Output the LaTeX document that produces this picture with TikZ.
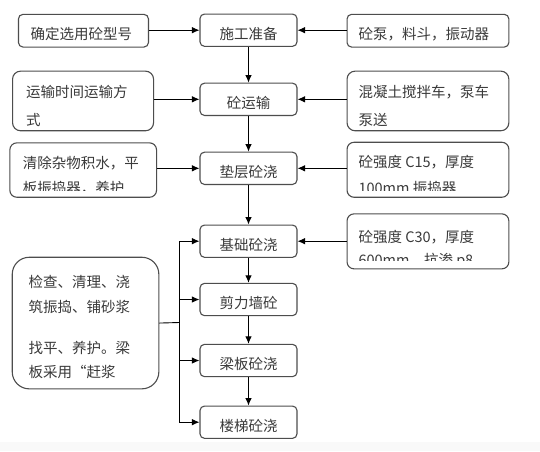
\documentclass[tikz,border=0pt]{standalone}
\usepackage{fontspec}
\newfontfamily\cjk{Noto Sans CJK SC}
\usetikzlibrary{arrows.meta}
\definecolor{txt}{HTML}{3a3a3a}
\definecolor{edge}{HTML}{4d4d4d}
\begin{document}
\begin{tikzpicture}[x=1pt,y=-1pt,
  sbox/.style={draw=edge,line width=1.1pt,rounded corners=4.5pt,inner sep=0pt,anchor=north west},
  cbox/.style={draw=edge,line width=1.1pt,rounded corners=4.5pt,inner sep=0pt,anchor=center,
    minimum width=97pt,minimum height=32.3pt,text height=18pt,text depth=0pt,
    font=\cjk\fontsize{14.5pt}{20pt}\selectfont,text=txt},
  tx/.style={font=\cjk\fontsize{14.5pt}{20pt}\selectfont,text=txt,inner sep=0pt,anchor=west},
  arr/.style={-{Latex[length=7.5pt,width=6.5pt]},line width=0.9pt,black},
  ln/.style={line width=0.9pt,black}]
\useasboundingbox (0,0) rectangle (540,451);
\fill[white] (0,0) rectangle (540,451);
\fill[gray!5] (0,441.7) rectangle (540,451);

% centre column
\node[cbox] (sg) at (248.5,30.2) {施工准备};
\node[cbox] (ys) at (248.5,99.3) {砼运输};
\node[cbox] (dc) at (248.5,168.3) {垫层砼浇};
\node[cbox] (jc) at (248.5,241.2) {基础砼浇};
\node[cbox] (jl) at (248.5,299.5) {剪力墙砼};
\node[cbox] (lb) at (248.5,360.5) {梁板砼浇};
\node[cbox] (lt) at (248.5,422.2) {楼梯砼浇};

% left boxes
\node[sbox,minimum width=130pt,minimum height=32.7pt] (l1) at (17.9,13.8) {};
\node[tx] (l1t) at (30.3,34) {确定选用砼型号};
\node[sbox,minimum width=141pt,minimum height=59.6pt,rounded corners=8pt] (l2) at (12,70.6) {};
\node[tx] (l2a) at (25.8,92.3) {运输时间运输方};
\node[tx] (l2b) at (25.8,119.8) {式};
\node[sbox,minimum width=146.7pt,minimum height=54.4pt,rounded corners=7pt] (l3) at (9.3,142.3) {};
\node[tx] (l3a) at (22.7,163.3) {清除杂物积水，平};
\begin{scope}
\clip (9.3,142.3) rectangle (156,190);
\node[tx] (l3b) at (22.7,188.3) {板振捣器，养护};
\end{scope}
\node[sbox,minimum width=146.6pt,minimum height=131.6pt,rounded corners=17pt] (big) at (11.7,256.7) {};
\node[tx] (bga) at (28.3,281.7) {检查、清理、浇};
\node[tx] (bgb) at (28.3,306.7) {筑振捣、铺砂浆};
\node[tx] (bgc) at (28.3,348.3) {找平、养护。梁};
\node[tx] (bgd) at (28.3,371.7) {板采用“赶浆};

% right boxes
\node[sbox,minimum width=161.8pt,minimum height=32.7pt] (r1) at (346.5,13.8) {};
\node[tx] (r1t) at (358.3,34) {砼泵，料斗，振动器};
\node[sbox,minimum width=161.8pt,minimum height=59.6pt,rounded corners=8pt] (r2) at (346.5,70.6) {};
\node[tx] (r2a) at (358.3,92.3) {混凝土搅拌车，泵车};
\node[tx] (r2b) at (358.3,119.8) {泵送};
\node[sbox,minimum width=161.8pt,minimum height=55pt,rounded corners=7pt] (r3) at (346.5,141.7) {};
\node[tx] (r3a) at (358.3,162.3) {砼强度 C15，厚度};
\begin{scope}
\clip (346.5,141.7) rectangle (508.3,190);
\node[tx] (r3b) at (358.3,188.3) {100mm 振捣器};
\end{scope}
\node[sbox,minimum width=161.8pt,minimum height=55pt,rounded corners=7pt] (r4) at (346.5,213.3) {};
\node[tx] (r4a) at (358.3,236.7) {砼强度 C30，厚度};
\begin{scope}
\clip (346.5,213.3) rectangle (508.3,260.7);
\node[tx] (r4b) at (358.3,261) {600mm，抗渗 p8};
\end{scope}

% connectors
\draw[arr] (l1.east |- sg.west) -- (sg.west);
\draw[arr] (r1.west |- sg.east) -- (sg.east);
\draw[arr] (sg) -- (ys);
\draw[arr] (l2.east |- ys.west) -- (ys.west);
\draw[arr] (r2.west |- ys.east) -- (ys.east);
\draw[arr] (ys) -- (dc);
\draw[arr] (l3.east |- dc.west) -- (dc.west);
\draw[arr] (r3.west |- dc.east) -- (dc.east);
\draw[arr] (dc) -- (jc);
\draw[arr] (r4.west |- jc.east) -- (jc.east);
\draw[arr] (jc) -- (jl);
\draw[arr] (jl) -- (lb);
\draw[arr] (lb) -- (lt);
\coordinate (bus) at (179,322.5);
\draw[ln] (big.east) -- (bus);
\draw[ln] (bus |- jc.west) -- (bus |- lt.west);
\draw[arr] (bus |- jc.west) -- (jc.west);
\draw[arr] (bus |- jl.west) -- (jl.west);
\draw[arr] (bus |- lb.west) -- (lb.west);
\draw[arr] (bus |- lt.west) -- (lt.west);
\end{tikzpicture}
\end{document}
